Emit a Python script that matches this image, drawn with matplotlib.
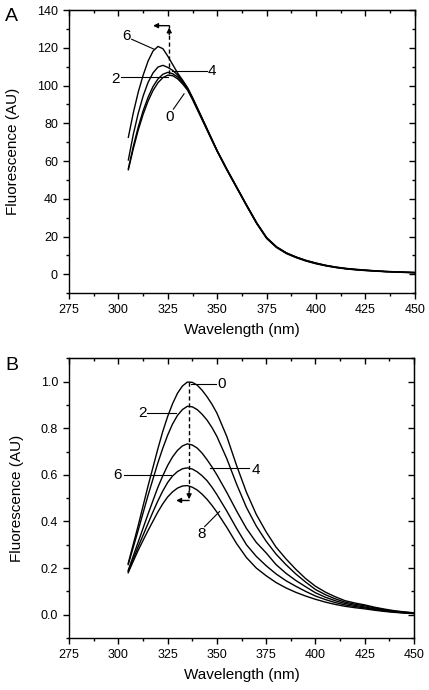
import matplotlib
matplotlib.use("Agg")
import matplotlib.pyplot as plt
from matplotlib.ticker import MultipleLocator, FormatStrFormatter

plt.rcParams['font.family'] = ['Liberation Sans', 'DejaVu Sans']

# wavelength grid (nm): finer around the peaks
wl = [305, 307.5, 310, 312.5, 315, 317.5, 320, 322.5, 325, 327.5,
      330, 332.5, 335, 337.5, 340, 342.5, 345, 347.5, 350,
      355, 360, 365, 370, 375, 380, 385, 390, 395, 400,
      405, 410, 415, 420, 425, 430, 435, 440, 445, 450]

# panel A spectra (AU)
a0 = [55.4, 66.5, 76.4, 84.8, 91.8, 97.4, 101.5, 104.2, 105.5, 105.2,
      103.5, 100.8, 97.5, 92.5, 87.0, 81.5, 76.0, 70.5, 65.0,
      55.0, 45.5, 36.0, 26.8, 19.0, 14.2, 11.0, 8.8, 7.0, 5.6,
      4.5, 3.6, 2.9, 2.4, 2.0, 1.7, 1.4, 1.2, 1.0, 0.8]
a2 = [56.0, 67.7, 78.0, 86.7, 93.8, 99.5, 103.5, 106.0, 107.0, 106.2,
      104.5, 101.6, 98.0, 93.0, 87.5, 82.0, 76.3, 70.8, 65.2,
      55.2, 45.7, 36.2, 27.0, 19.2, 14.4, 11.2, 9.0, 7.2, 5.8,
      4.6, 3.7, 3.0, 2.5, 2.1, 1.8, 1.5, 1.3, 1.1, 0.9]
a4 = [60.6, 74.1, 85.3, 94.5, 101.7, 106.7, 109.8, 110.7, 109.6, 108.0,
      105.5, 102.3, 98.5, 93.4, 87.8, 82.2, 76.5, 70.9, 65.3,
      55.3, 45.8, 36.3, 27.1, 19.3, 14.5, 11.3, 9.1, 7.3, 5.9,
      4.7, 3.8, 3.1, 2.6, 2.2, 1.8, 1.5, 1.3, 1.1, 1.0]
a6 = [72.6, 85.5, 96.5, 105.5, 113.0, 118.3, 120.7, 119.5, 115.5, 111.0,
      106.5, 102.8, 98.8, 93.6, 88.0, 82.4, 76.8, 71.1, 65.5,
      55.5, 46.0, 36.5, 27.3, 19.5, 14.6, 11.4, 9.2, 7.4, 6.0,
      4.8, 3.9, 3.2, 2.7, 2.3, 1.9, 1.6, 1.4, 1.2, 1.0]

# panel B spectra (normalised)
b0 = [0.22, 0.30, 0.38, 0.465, 0.55, 0.63, 0.71, 0.785, 0.85, 0.905,
      0.95, 0.981, 0.998, 0.997, 0.985, 0.963, 0.935, 0.903, 0.865,
      0.765, 0.64, 0.525, 0.43, 0.355, 0.29, 0.24, 0.195, 0.155, 0.122,
      0.097, 0.077, 0.060, 0.050, 0.042, 0.032, 0.024, 0.017, 0.012, 0.008]
b2 = [0.215, 0.287, 0.36, 0.435, 0.51, 0.58, 0.65, 0.713, 0.77, 0.818,
      0.855, 0.88, 0.894, 0.892, 0.88, 0.86, 0.835, 0.803, 0.765,
      0.67, 0.56, 0.46, 0.38, 0.315, 0.26, 0.215, 0.175, 0.14, 0.108,
      0.086, 0.068, 0.054, 0.045, 0.038, 0.029, 0.021, 0.015, 0.011, 0.007]
b4 = [0.19, 0.25, 0.31, 0.37, 0.43, 0.488, 0.545, 0.595, 0.64, 0.677,
      0.705, 0.724, 0.733, 0.728, 0.715, 0.693, 0.665, 0.634, 0.60,
      0.525, 0.445, 0.37, 0.31, 0.265, 0.215, 0.178, 0.147, 0.12, 0.094,
      0.075, 0.060, 0.048, 0.040, 0.033, 0.025, 0.019, 0.013, 0.009, 0.006]
b6 = [0.185, 0.238, 0.29, 0.34, 0.39, 0.44, 0.487, 0.53, 0.567, 0.595,
      0.614, 0.626, 0.63, 0.625, 0.613, 0.596, 0.575, 0.547, 0.515,
      0.445, 0.37, 0.30, 0.25, 0.21, 0.175, 0.146, 0.122, 0.10, 0.08,
      0.065, 0.052, 0.042, 0.035, 0.029, 0.022, 0.016, 0.011, 0.008, 0.005]
b8 = [0.18, 0.228, 0.275, 0.318, 0.36, 0.40, 0.44, 0.475, 0.505, 0.527,
      0.543, 0.552, 0.554, 0.547, 0.535, 0.517, 0.495, 0.469, 0.44,
      0.375, 0.305, 0.245, 0.20, 0.167, 0.138, 0.115, 0.096, 0.08, 0.066,
      0.054, 0.044, 0.036, 0.030, 0.025, 0.019, 0.014, 0.010, 0.007, 0.005]

fig = plt.figure(figsize=(4.29, 6.90), dpi=100)
axA = fig.add_axes([0.161, 0.575, 0.806, 0.4105])
axB = fig.add_axes([0.161, 0.0754, 0.804, 0.4053])


def style_axes(ax, ymaj, ymin):
    ax.set_xlim(275, 450)
    ax.xaxis.set_major_locator(MultipleLocator(25))
    ax.xaxis.set_minor_locator(MultipleLocator(12.5))
    ax.yaxis.set_major_locator(MultipleLocator(ymaj))
    ax.yaxis.set_minor_locator(MultipleLocator(ymin))
    ax.tick_params(which='both', direction='out', labelsize=9, width=1)
    ax.tick_params(which='major', length=4.5)
    ax.tick_params(which='minor', length=2.5)
    for s in ax.spines.values():
        s.set_linewidth(1)
    # mirrored ticks pointing inward
    top = ax.secondary_xaxis('top')
    right = ax.secondary_yaxis('right')
    top.xaxis.set_major_locator(MultipleLocator(25))
    top.xaxis.set_minor_locator(MultipleLocator(12.5))
    right.yaxis.set_major_locator(MultipleLocator(ymaj))
    right.yaxis.set_minor_locator(MultipleLocator(ymin))
    for sec in (top, right):
        sec.tick_params(which='both', direction='in', labeltop=False,
                        labelright=False, width=1)
        sec.tick_params(which='major', length=4.5)
        sec.tick_params(which='minor', length=2.5)
    ax.set_xlabel('Wavelength (nm)', fontsize=11, labelpad=5)
    ax.set_ylabel('Fluorescence (AU)', fontsize=11, labelpad=12)


lab = dict(fontsize=11, ha='center', va='center')

# ---- panel A
for s in (a0, a2, a4, a6):
    axA.plot(wl, s, color='black', lw=1.0)
axA.set_ylim(-10, 140)
style_axes(axA, 20, 10)
axA.yaxis.set_major_formatter(FormatStrFormatter('%d'))

axA.plot([306.7, 318.1], [124.5, 119.2], color='black', lw=0.8)
axA.text(304.2, 126.2, '6', **lab)
axA.plot([301.2, 325.2], [104.4, 104.4], color='black', lw=0.8)
axA.text(298.3, 103.6, '2', **lab)
axA.plot([326.9, 344.7], [107.9, 107.9], color='black', lw=0.8)
axA.text(347.4, 107.6, '4', **lab)
axA.plot([327.8, 333.2], [87.5, 95.6], color='black', lw=0.8)
axA.text(325.7, 83.5, '0', **lab)
# peak shift marker
axA.plot([325.7, 325.7], [106, 127.5], color='black', lw=1.0, ls=(0, (3, 2)))
axA.annotate('', xy=(325.7, 130.8), xytext=(325.7, 127.0),
             arrowprops=dict(arrowstyle='-|>', color='black', lw=1,
                             mutation_scale=7, shrinkA=0, shrinkB=0))
axA.annotate('', xy=(317.5, 131.7), xytext=(325.7, 131.7),
             arrowprops=dict(arrowstyle='-|>', color='black', lw=1,
                             mutation_scale=7, shrinkA=0, shrinkB=0))
axA.plot([325.7, 325.7], [130.8, 131.7], color='black', lw=1.0)

fig.text(0.027, 0.976, 'A', fontsize=14, ha='center', va='center')

# ---- panel B
for s in (b0, b2, b4, b6, b8):
    axB.plot(wl, s, color='black', lw=1.0)
axB.set_ylim(-0.1, 1.1)
style_axes(axB, 0.2, 0.1)
axB.yaxis.set_major_formatter(FormatStrFormatter('%.1f'))

axB.plot([337.1, 349.4], [0.99, 0.99], color='black', lw=0.8)
axB.text(352.3, 0.99, '0', **lab)
axB.plot([314.6, 329.5], [0.865, 0.865], color='black', lw=0.8)
axB.text(312.2, 0.865, '2', **lab)
axB.plot([346.3, 366.2], [0.63, 0.63], color='black', lw=0.8)
axB.text(369.6, 0.62, '4', **lab)
axB.plot([302.8, 326.9], [0.60, 0.60], color='black', lw=0.8)
axB.text(299.5, 0.60, '6', **lab)
axB.plot([343.8, 351.4], [0.378, 0.443], color='black', lw=0.8)
axB.text(342.1, 0.345, '8', **lab)
# peak shift marker
axB.plot([335.9, 335.9], [1.0, 0.53], color='black', lw=1.0, ls=(0, (3, 2)))
axB.annotate('', xy=(335.9, 0.495), xytext=(335.9, 0.53),
             arrowprops=dict(arrowstyle='-|>', color='black', lw=1,
                             mutation_scale=7, shrinkA=0, shrinkB=0))
axB.annotate('', xy=(329.3, 0.49), xytext=(335.9, 0.49),
             arrowprops=dict(arrowstyle='-|>', color='black', lw=1,
                             mutation_scale=7, shrinkA=0, shrinkB=0))

fig.text(0.027, 0.471, 'B', fontsize=14, ha='center', va='center')

fig.savefig('out.png', dpi=100)
